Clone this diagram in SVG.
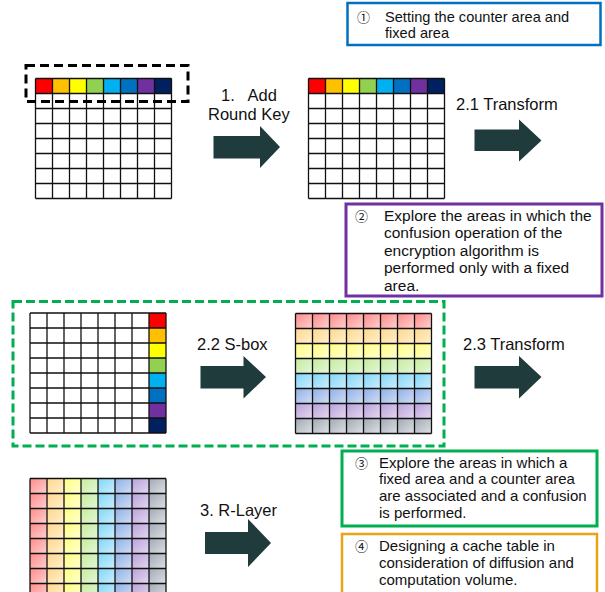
<svg xmlns="http://www.w3.org/2000/svg" xmlns:xlink="http://www.w3.org/1999/xlink" width="605" height="592" viewBox="0 0 605 592">
  <style>
    .grid-lines { fill: none; stroke: #111; stroke-width: 1.3; }
    .arrow { fill: #1f3b3b; }
    .label { font-family: "Liberation Sans", "Noto Sans CJK KR", sans-serif; font-size: 16.5px; fill: #111; white-space: pre; }
    .note { font-family: "Liberation Sans", "Noto Sans CJK KR", sans-serif; font-size: 15px; fill: #111; }
    .num { font-family: "Noto Sans CJK KR", sans-serif; font-size: 13px; fill: #111; }
    .note-box { fill: #fff; }
  </style>
  <defs>
    <!-- 8x8 grid, cells 17 x 15 -->
    <path id="gridLines" class="grid-lines" d="M0 0V120M17 0V120M34 0V120M51 0V120M68 0V120M85 0V120M102 0V120M119 0V120M136 0V120M0 0H136M0 15H136M0 30H136M0 45H136M0 60H136M0 75H136M0 90H136M0 105H136M0 120H136"/>

    <!-- soft per-cell gradients -->
    <linearGradient id="gRed" x1="0" y1="0" x2="1" y2="1"><stop offset="0" stop-color="#ff8a8a"/><stop offset="1" stop-color="#ffd0d0"/></linearGradient>
    <linearGradient id="gOrange" x1="0" y1="0" x2="1" y2="1"><stop offset="0" stop-color="#ffd88a"/><stop offset="1" stop-color="#ffefd0"/></linearGradient>
    <linearGradient id="gYellow" x1="0" y1="0" x2="1" y2="1"><stop offset="0" stop-color="#ffff80"/><stop offset="1" stop-color="#ffffd2"/></linearGradient>
    <linearGradient id="gGreen" x1="0" y1="0" x2="1" y2="1"><stop offset="0" stop-color="#c4ec9c"/><stop offset="1" stop-color="#e6f6d8"/></linearGradient>
    <linearGradient id="gSky" x1="0" y1="0" x2="1" y2="1"><stop offset="0" stop-color="#7fd6fa"/><stop offset="1" stop-color="#cdeefc"/></linearGradient>
    <linearGradient id="gBlue" x1="0" y1="0" x2="1" y2="1"><stop offset="0" stop-color="#8eb0e6"/><stop offset="1" stop-color="#d2def4"/></linearGradient>
    <linearGradient id="gPurple" x1="0" y1="0" x2="1" y2="1"><stop offset="0" stop-color="#b9a0da"/><stop offset="1" stop-color="#e3d8f0"/></linearGradient>
    <linearGradient id="gGray" x1="0" y1="0" x2="1" y2="1"><stop offset="0" stop-color="#a2a9b4"/><stop offset="1" stop-color="#dde0e5"/></linearGradient>

    <pattern id="pRed" width="17" height="15" patternUnits="userSpaceOnUse"><rect width="17" height="15" fill="url(#gRed)"/></pattern>
    <pattern id="pOrange" width="17" height="15" patternUnits="userSpaceOnUse"><rect width="17" height="15" fill="url(#gOrange)"/></pattern>
    <pattern id="pYellow" width="17" height="15" patternUnits="userSpaceOnUse"><rect width="17" height="15" fill="url(#gYellow)"/></pattern>
    <pattern id="pGreen" width="17" height="15" patternUnits="userSpaceOnUse"><rect width="17" height="15" fill="url(#gGreen)"/></pattern>
    <pattern id="pSky" width="17" height="15" patternUnits="userSpaceOnUse"><rect width="17" height="15" fill="url(#gSky)"/></pattern>
    <pattern id="pBlue" width="17" height="15" patternUnits="userSpaceOnUse"><rect width="17" height="15" fill="url(#gBlue)"/></pattern>
    <pattern id="pPurple" width="17" height="15" patternUnits="userSpaceOnUse"><rect width="17" height="15" fill="url(#gPurple)"/></pattern>
    <pattern id="pGray" width="17" height="15" patternUnits="userSpaceOnUse"><rect width="17" height="15" fill="url(#gGray)"/></pattern>
  </defs>

  <rect width="605" height="592" fill="#fff"/>

  <!-- State before AddRoundKey: colored top row -->
  <g id="grid-initial" transform="translate(35.5,78.5)">
    <rect width="136" height="120" fill="#fff"/>
    <rect x="0" width="17" height="15" fill="#ff0000"/>
    <rect x="17" width="17" height="15" fill="#ffc000"/>
    <rect x="34" width="17" height="15" fill="#ffff00"/>
    <rect x="51" width="17" height="15" fill="#92d050"/>
    <rect x="68" width="17" height="15" fill="#00b0f0"/>
    <rect x="85" width="17" height="15" fill="#0070c0"/>
    <rect x="102" width="17" height="15" fill="#7030a0"/>
    <rect x="119" width="17" height="15" fill="#002060"/>
    <use href="#gridLines"/>
  </g>
  <rect id="counter-area" x="26" y="65.5" width="162" height="36" fill="none" stroke="#000" stroke-width="3" stroke-dasharray="9 5"/>

  <!-- State after AddRoundKey -->
  <g id="grid-after-ark" transform="translate(308.5,78.5)">
    <rect width="136" height="120" fill="#fff"/>
    <rect x="0" width="17" height="15" fill="#ff0000"/>
    <rect x="17" width="17" height="15" fill="#ffc000"/>
    <rect x="34" width="17" height="15" fill="#ffff00"/>
    <rect x="51" width="17" height="15" fill="#92d050"/>
    <rect x="68" width="17" height="15" fill="#00b0f0"/>
    <rect x="85" width="17" height="15" fill="#0070c0"/>
    <rect x="102" width="17" height="15" fill="#7030a0"/>
    <rect x="119" width="17" height="15" fill="#002060"/>
    <use href="#gridLines"/>
  </g>

  <!-- Fixed-area exploration region -->
  <rect id="fixed-region" x="13" y="301.5" width="431" height="144.5" fill="none" stroke="#00b050" stroke-width="3" stroke-dasharray="9 4"/>

  <!-- State after first transform: colored last column -->
  <g id="grid-transformed" transform="translate(30,313)">
    <rect width="136" height="120" fill="#fff"/>
    <rect x="119" y="0" width="17" height="15" fill="#ff0000"/>
    <rect x="119" y="15" width="17" height="15" fill="#ffc000"/>
    <rect x="119" y="30" width="17" height="15" fill="#ffff00"/>
    <rect x="119" y="45" width="17" height="15" fill="#92d050"/>
    <rect x="119" y="60" width="17" height="15" fill="#00b0f0"/>
    <rect x="119" y="75" width="17" height="15" fill="#0070c0"/>
    <rect x="119" y="90" width="17" height="15" fill="#7030a0"/>
    <rect x="119" y="105" width="17" height="15" fill="#002060"/>
    <use href="#gridLines"/>
  </g>

  <!-- State after S-box: rows diffused -->
  <g id="grid-sbox" transform="translate(295.5,313.5)">
    <rect y="0" width="136" height="15" fill="url(#pRed)"/>
    <rect y="15" width="136" height="15" fill="url(#pOrange)"/>
    <rect y="30" width="136" height="15" fill="url(#pYellow)"/>
    <rect y="45" width="136" height="15" fill="url(#pGreen)"/>
    <rect y="60" width="136" height="15" fill="url(#pSky)"/>
    <rect y="75" width="136" height="15" fill="url(#pBlue)"/>
    <rect y="90" width="136" height="15" fill="url(#pPurple)"/>
    <rect y="105" width="136" height="15" fill="url(#pGray)"/>
    <use href="#gridLines"/>
  </g>

  <!-- State after second transform: columns diffused -->
  <g id="grid-rlayer" transform="translate(30,478.5)">
    <rect x="0" width="17" height="120" fill="url(#pRed)"/>
    <rect x="17" width="17" height="120" fill="url(#pOrange)"/>
    <rect x="34" width="17" height="120" fill="url(#pYellow)"/>
    <rect x="51" width="17" height="120" fill="url(#pGreen)"/>
    <rect x="68" width="17" height="120" fill="url(#pSky)"/>
    <rect x="85" width="17" height="120" fill="url(#pBlue)"/>
    <rect x="102" width="17" height="120" fill="url(#pPurple)"/>
    <rect x="119" width="17" height="120" fill="url(#pGray)"/>
    <use href="#gridLines"/>
  </g>

  <!-- Step arrows -->
  <g id="connectors">
    <polygon class="arrow" points="213.5,136 260,136 260,126 280,147 260,168 260,158.5 213.5,158.5"/>
    <polygon class="arrow" points="474.5,129.5 519,129.5 519,119.5 541.5,140.5 519,161.5 519,151 474.5,151"/>
    <polygon class="arrow" points="200.5,366 243.5,366 243.5,356 266,377 243.5,398.5 243.5,388.5 200.5,388.5"/>
    <polygon class="arrow" points="474.5,366 519,366 519,356 541.5,377 519,398.5 519,388.5 474.5,388.5"/>
    <polygon class="arrow" points="205,532 248,532 248,519 271,543 248,567 248,554 205,554"/>
  </g>

  <!-- Step labels -->
  <g id="step-labels">
    <text class="label"><tspan x="221" y="101">1.   Add</tspan><tspan x="208" dy="19">Round Key</tspan></text>
    <text class="label" x="456" y="110">2.1 Transform</text>
    <text class="label" x="197" y="350">2.2 S-box</text>
    <text class="label" x="463" y="350">2.3 Transform</text>
    <text class="label" x="200" y="516">3. R-Layer</text>
  </g>

  <!-- Notes -->
  <g id="note-1">
    <rect class="note-box" x="347.5" y="3" width="253" height="42" stroke="#0070c0" stroke-width="2.5"/>
    <text class="num" x="357" y="21.5">①</text>
    <text class="note" style="font-size:14.6px"><tspan x="385" y="21.5">Setting the counter area and</tspan><tspan x="385" dy="16.4">fixed area</tspan></text>
  </g>
  <g id="note-2">
    <rect class="note-box" x="346" y="204" width="256" height="92" stroke="#7030a0" stroke-width="3"/>
    <text class="num" x="355" y="220.5">②</text>
    <text class="note" style="font-size:15.5px"><tspan x="384" y="220.5">Explore the areas in which the</tspan><tspan x="384" dy="17.5">confusion operation of the</tspan><tspan x="384" dy="17.5">encryption algorithm is</tspan><tspan x="384" dy="17.5">performed only with a fixed</tspan><tspan x="384" dy="17.5">area.</tspan></text>
  </g>
  <g id="note-3">
    <rect class="note-box" x="342" y="451" width="255" height="75" stroke="#00b050" stroke-width="3"/>
    <text class="num" x="355" y="467.5">③</text>
    <text class="note"><tspan x="379" y="467.5">Explore the areas in which a</tspan><tspan x="379" dy="16.8">fixed area and a counter area</tspan><tspan x="379" dy="16.8">are associated and a confusion</tspan><tspan x="379" dy="16.8">is performed.</tspan></text>
  </g>
  <g id="note-4">
    <rect class="note-box" x="342" y="534" width="255" height="70" stroke="#e8a317" stroke-width="2.5"/>
    <text class="num" x="355" y="551">④</text>
    <text class="note"><tspan x="379" y="551">Designing a cache table in</tspan><tspan x="379" dy="16.8">consideration of diffusion and</tspan><tspan x="379" dy="16.8">computation volume.</tspan></text>
  </g>
</svg>
